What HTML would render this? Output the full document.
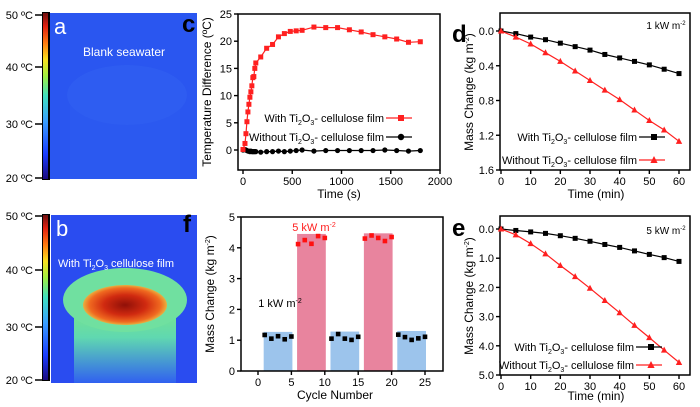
<!DOCTYPE html>
<html><head><meta charset="utf-8"><style>
html,body{margin:0;padding:0;background:#fff;}
svg{display:block;font-family:"Liberation Sans",Arial,sans-serif;}
</style></head><body>
<svg id="s" width="700" height="407" viewBox="0 0 700 407" xmlns="http://www.w3.org/2000/svg">
<defs>
<linearGradient id="cb" x1="0" y1="1" x2="0" y2="0">
<stop offset="0" stop-color="#1a0a80"/><stop offset="0.15" stop-color="#1a3cff"/><stop offset="0.35" stop-color="#3aa0ff"/><stop offset="0.5" stop-color="#40e0c0"/><stop offset="0.62" stop-color="#a0f040"/><stop offset="0.72" stop-color="#f8e020"/><stop offset="0.82" stop-color="#ff7a10"/><stop offset="0.92" stop-color="#e02010"/><stop offset="1" stop-color="#701010"/>
</linearGradient>
<radialGradient id="hot" cx="0.5" cy="0.5" r="0.5">
<stop offset="0" stop-color="#901008"/><stop offset="0.5" stop-color="#d02a10"/><stop offset="0.85" stop-color="#f06a20"/><stop offset="1" stop-color="#e8b040"/>
</radialGradient>
<linearGradient id="cup" x1="0" y1="0" x2="0" y2="1">
<stop offset="0" stop-color="#80e880"/><stop offset="0.45" stop-color="#60d8b0"/><stop offset="1" stop-color="#3060f0"/>
</linearGradient>
</defs>
<g>
<rect x="42" y="12" width="8" height="168" fill="#000"/>
<rect x="43" y="13" width="5" height="166" fill="url(#cb)"/>
<rect x="50" y="13" width="147" height="166" fill="#2a56f0"/>
<ellipse cx="127" cy="95" rx="60" ry="30" fill="#3262f2" opacity="0.5"/>
<rect x="70" y="100" width="110" height="79" fill="#2f5ef2" opacity="0.35"/>
<text x="54" y="34" font-size="22" fill="#fff">a</text>
<text x="83" y="56" font-size="12" fill="#fff">Blank seawater</text>
<g font-size="11" text-anchor="end" fill="#000">
<text x="33" y="19">50 ºC</text><text x="33" y="71">40 ºC</text><text x="33" y="128">30 ºC</text><text x="33" y="182">20 ºC</text></g>
<g fill="none" stroke="#000" stroke-width="1.5"><polyline points="35,15 42,15"/><polyline points="35,67 42,67"/><polyline points="35,124 42,124"/><polyline points="35,178 42,178"/></g>
</g>
<g>
<rect x="42" y="214" width="8" height="167" fill="#000"/>
<rect x="43" y="215" width="5" height="165" fill="url(#cb)"/>
<rect x="51" y="215" width="146" height="168" fill="#2a4cf0"/>
<rect x="74" y="300" width="102" height="83" fill="url(#cup)"/>
<ellipse cx="125" cy="300" rx="62" ry="32" fill="#70e0a0"/>
<ellipse cx="125" cy="305" rx="42" ry="20" fill="url(#hot)"/>
<text x="56" y="236" font-size="22" fill="#fff">b</text>
<text x="58" y="267" font-size="11" fill="#fff">With Ti<tspan font-size="7" dy="3">2</tspan><tspan dy="-3">O</tspan><tspan font-size="7" dy="3">3</tspan><tspan dy="-3"> cellulose film</tspan></text>
<g font-size="11" text-anchor="end" fill="#000">
<text x="33" y="220">50 ºC</text><text x="33" y="274">40 ºC</text><text x="33" y="331">30 ºC</text><text x="33" y="384">20 ºC</text></g>
<g fill="none" stroke="#000" stroke-width="1.5"><polyline points="35,216 42,216"/><polyline points="35,270 42,270"/><polyline points="35,327 42,327"/><polyline points="35,380 42,380"/></g>
</g>
<g id="charts"></g>
</svg>
<script>
const cTime=[0,20,30,40,50,60,70,80,90,100,110,120,130,180,240,300,360,420,480,540,600,720,840,960,1080,1200,1320,1440,1560,1680,1800];
const cWith=[0.1,1.2,3,5.2,7,8.4,9.7,10.7,11.8,13.3,13.5,15,16,17.1,18.7,19.4,20.8,21.4,21.8,21.9,22,22.6,22.5,22.5,22.1,21.7,21.2,20.8,20.4,19.8,19.9];
const cWithout=[0,0.1,0,-0.1,-0.2,-0.2,-0.3,-0.2,-0.3,-0.3,-0.3,-0.3,-0.3,-0.4,-0.3,-0.3,-0.2,-0.3,-0.2,-0.1,0,-0.2,-0.1,-0.1,-0.1,-0.1,-0.1,0,-0.1,-0.2,-0.1];
const cXTicks=[0,500,1000,1500,2000];
const cYTicks=[0,5,10,15,20,25];
const dTime=[0,5,10,15,20,25,30,35,40,45,50,55,60];
const dWith=[0,0.03,0.07,0.1,0.14,0.18,0.22,0.27,0.31,0.35,0.39,0.44,0.49];
const dWithout=[0,0.07,0.15,0.25,0.35,0.46,0.57,0.68,0.79,0.91,1.03,1.14,1.27];
const dYTicks=[0,0.4,0.8,1.2,1.6];
const eWith=[0,0.05,0.1,0.15,0.23,0.32,0.42,0.53,0.63,0.75,0.87,0.98,1.11];
const eWithout=[0,0.2,0.5,0.85,1.25,1.63,2.03,2.45,2.87,3.3,3.72,4.15,4.57];
const eYTicks=[0,1,2,3,4,5];
const minTicks=[0,10,20,30,40,50,60];
const fCycles=[1,2,3,4,5,6,7,8,9,10,11,12,13,14,15,16,17,18,19,20,21,22,23,24,25];
const fMass=[1.17,1.05,1.13,1.03,1.12,4.12,4.25,4.13,4.38,4.32,1.05,1.2,1.05,1.01,1.11,4.3,4.4,4.32,4.22,4.35,1.18,1.1,1.01,1.06,1.11];
const fBarStart=[1,6,11,16,21];
const fBarEnd=[5,10,15,20,25];
const fBarHeight=[1.27,4.45,1.28,4.47,1.3];
const fBarHigh=[false,true,false,true,false];
const fXTicks=[0,5,10,15,20,25];
const fYTicks=[0,1,2,3,4,5];

const NS='http://www.w3.org/2000/svg';
const root=document.getElementById('charts');
function mk(tag,attrs,parent,txt){const e=document.createElementNS(NS,tag);for(const k in attrs)e.setAttribute(k,attrs[k]);if(txt!==undefined)e.textContent=txt;(parent||root).appendChild(e);return e;}
function lin(d0,d1,r0,r1){return v=>r0+(v-d0)/(d1-d0)*(r1-r0);}
function pl(g,pts,w){const e=mk('polyline',{points:pts,fill:'none',stroke:'#000','stroke-width':w||1.4},g);return e;}
function frame(g,l,t,r,b){
 const f=pl(g,`${l},${t} ${r},${t} ${r},${b} ${l},${b} ${l},${t-0.7}`,1.5);
 
 
}
function xAxis(g,ticks,sx,b,fmt){ticks.forEach(v=>{const x=sx(v);pl(g,`${x},${b} ${x},${b+4}`);mk('text',{x:x,y:b+15,'font-size':11,'text-anchor':'middle'},g,fmt?fmt(v):v);});}
function yAxis(g,ticks,sy,l,fmt){ticks.forEach(v=>{const y=sy(v);pl(g,`${l-4},${y} ${l},${y}`);mk('text',{x:l-6,y:y+4,'font-size':11,'text-anchor':'end'},g,fmt?fmt(v):v);});}
function series(g,xs,ys,sx,sy,color,shape,name){
 const pts=xs.map((x,i)=>sx(x).toFixed(1)+','+sy(ys[i]).toFixed(1)).join(' ');
 const p=mk('polyline',{points:pts,fill:'none',stroke:color,'stroke-width':1.2},g);
 
 
 xs.forEach((x,i)=>{const px=sx(x),py=sy(ys[i]);let m;
  if(shape==='sq')m=mk('rect',{x:px-2.5,y:py-2.5,width:5,height:5,fill:color},g);
  else if(shape==='ci')m=mk('circle',{cx:px,cy:py,r:2.6,fill:color},g);
  else m=mk('polygon',{points:`${px},${py-3.5} ${px-3.2},${py+2.5} ${px+3.2},${py+2.5}`,fill:color},g);
  
  });
}
function ttl(g,x,y,txt,rot){const t=mk('text',{x:x,y:y,'font-size':12,'text-anchor':'middle'},g);if(rot)t.setAttribute('transform',`rotate(-90 ${x} ${y})`);t.innerHTML=txt;return t;}
function legend(g,xEnd,y,label,color,shape){
 const t=mk('text',{x:xEnd,y:y+4,'font-size':11,'text-anchor':'end'},g);
 t.innerHTML=label;
 mk('line',{x1:xEnd+2,y1:y,x2:xEnd+28,y2:y,stroke:color,'stroke-width':1.2},g);
 const cx=xEnd+17;
 if(shape==='sq')mk('rect',{x:cx-3,y:y-3,width:6,height:6,fill:color},g);
 else if(shape==='ci')mk('circle',{cx:cx,cy:y,r:3.2,fill:color},g);
 else mk('polygon',{points:`${cx},${y-4} ${cx-3.6},${y+3} ${cx+3.6},${y+3}`,fill:color},g);
}
const TI='Ti<tspan font-size="7" dy="3">2</tspan><tspan dy="-3">O</tspan><tspan font-size="7" dy="3">3</tspan><tspan dy="-3">- cellulose film</tspan>';
const UNIT='(kg m<tspan font-size="7" dy="-4">-2</tspan><tspan dy="4">)</tspan>';

(function(){
 const g=mk('g',{});
 
 
 const sx=lin(0,2000,243,440), sy=lin(0,25,150,14);
 frame(g,238,14,440,170);
 xAxis(g,cXTicks,sx,170);yAxis(g,cYTicks,sy,238);
 series(g,cTime,cWithout,sx,sy,'#000','ci','without-film-c');
 series(g,cTime,cWith,sx,sy,'#ff2020','sq','with-film-c');
 ttl(g,339,198,'Time (s)');
 ttl(g,211,92,'Temperature Difference (ºC)',true);
 legend(g,384,118,'With '+TI,'#ff2020','sq');
 legend(g,384,137,'Without '+TI,'#000','ci');
 mk('text',{x:182,y:32,'font-size':24,'font-weight':'bold'},g,'c');
})();
(function(){
 const g=mk('g',{});
 
 
 const sx=lin(0,60,501,679), sy=lin(0,1.6,31,170);
 frame(g,500,13,690,170);
 xAxis(g,minTicks,sx,170);yAxis(g,dYTicks,sy,500,v=>v.toFixed(1));
 series(g,dTime,dWith,sx,sy,'#000','sq','with-film-d');
 series(g,dTime,dWithout,sx,sy,'#ff2020','tr','without-film-d');
 ttl(g,596,198,'Time (min)');
 ttl(g,473,92,'Mass Change '+UNIT,true);
 legend(g,637,137,'With '+TI,'#000','sq');
 legend(g,637,160,'Without '+TI,'#ff2020','tr');
 mk('text',{x:666,y:29,'font-size':10,'text-anchor':'middle'},g).innerHTML='1 kW m<tspan font-size="6" dy="-4">-2</tspan>';
 mk('text',{x:452,y:42,'font-size':24,'font-weight':'bold'},g,'d');
})();
(function(){
 const g=mk('g',{});
 
 
 const sx=lin(0,60,501,679), sy=lin(0,5,229,375);
 frame(g,500,216,690,375);
 xAxis(g,minTicks,sx,375);yAxis(g,eYTicks,sy,500,v=>v.toFixed(1));
 series(g,dTime,eWith,sx,sy,'#000','sq','with-film-e');
 series(g,dTime,eWithout,sx,sy,'#ff2020','tr','without-film-e');
 ttl(g,596,400,'Time (min)');
 ttl(g,473,296,'Mass Change '+UNIT,true);
 legend(g,634,347,'With '+TI,'#000','sq');
 legend(g,634,365,'Without '+TI,'#ff2020','tr');
 mk('text',{x:666,y:234,'font-size':10,'text-anchor':'middle'},g).innerHTML='5 kW m<tspan font-size="6" dy="-4">-2</tspan>';
 mk('text',{x:452,y:236,'font-size':24,'font-weight':'bold'},g,'e');
})();
(function(){
 const g=mk('g',{});
 
 
 const sx=lin(0,25,258,425), sy=lin(0,5,371,217);
 fBarStart.forEach((s,i)=>{const x0=sx(s-0.15),x1=sx(fBarEnd[i]+0.15),y=sy(fBarHeight[i]);
  const r=mk('rect',{x:x0,y:y,width:x1-x0,height:sy(0)-y,fill:fBarHigh[i]?'#e8849e':'#9cc4ec'},g);
  
  });
 fCycles.forEach((c,i)=>{const hi=fMass[i]>2;
  const m=mk('rect',{x:sx(c)-2.3,y:sy(fMass[i])-2.3,width:4.6,height:4.6,fill:hi?'#ff1010':'#000'},g);
  
  });
 frame(g,241,217,443,371);
 xAxis(g,fXTicks,sx,371);yAxis(g,fYTicks,sy,241);
 ttl(g,335,399,'Cycle Number');
 ttl(g,214,294,'Mass Change '+UNIT,true);
 mk('text',{x:314,y:231,'font-size':11,'text-anchor':'middle',fill:'#ff2020'},g).innerHTML='5 kW m<tspan font-size="7" dy="-4">-2</tspan>';
 mk('text',{x:280,y:307,'font-size':11,'text-anchor':'middle'},g).innerHTML='1 kW m<tspan font-size="7" dy="-4">-2</tspan>';
 mk('text',{x:183,y:232,'font-size':24,'font-weight':'bold'},g,'f');
})();
</script>
</body></html>
